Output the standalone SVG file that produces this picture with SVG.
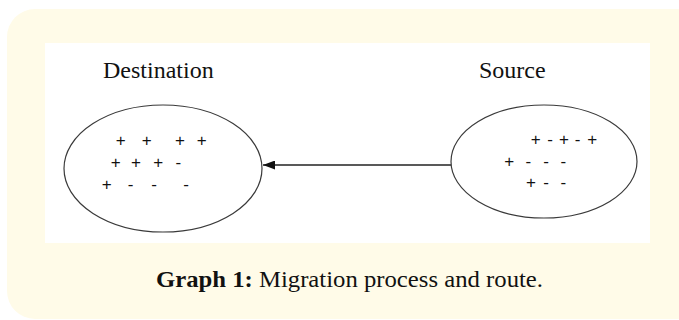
<svg xmlns="http://www.w3.org/2000/svg" width="679" height="320" viewBox="0 0 679 320">
  <style>
    .panel { fill: #fffbe8; }
    .plot { fill: #ffffff; }
    .node { fill: #ffffff; stroke: #3a3a3a; stroke-width: 1.2; }
    .label { font-family: "Liberation Serif", "Times New Roman", serif; font-size: 24px; fill: #111; }
    .sign { font-family: "Liberation Sans", Arial, sans-serif; font-size: 17px; fill: #111; text-anchor: middle; }
    .edge { stroke: #222; stroke-width: 1.4; fill: none; }
    .caption { font-family: "Liberation Serif", "Times New Roman", serif; font-size: 23px; fill: #111; }
  </style>
  <defs>
    <marker id="arrow" viewBox="0 0 12 9" refX="12" refY="4.5" markerWidth="12" markerHeight="9" markerUnits="userSpaceOnUse" orient="auto">
      <path d="M0,0 L12,4.5 L0,9 Z" fill="#111"/>
    </marker>
  </defs>

  <rect class="panel" x="7" y="9" width="700" height="310" rx="28" ry="28"/>
  <rect class="plot" x="45" y="43" width="605" height="200"/>

  <g id="connectors">
    <line class="edge" x1="451" y1="165" x2="263" y2="165" marker-end="url(#arrow)"/>
  </g>

  <g id="node-destination">
    <ellipse class="node" cx="163" cy="168.5" rx="99" ry="63.5"/>
    <text class="label" x="103" y="78" font-family="Liberation Serif, serif">Destination</text>
    <text class="sign" x="120.7 133.7 146.7 163.3 180 190.8 201.7" y="146.1">+ + + +</text>
    <text class="sign" x="115.7 125.8 136 147.2 158.3 168.3 178.3" y="167.8">+ + + -</text>
    <text class="sign" x="106.7 118.7 130.7 142.3 154 170 186" y="190.1">+ - - -</text>
  </g>

  <g id="node-source">
    <ellipse class="node" cx="544" cy="161.5" rx="93" ry="56.5"/>
    <text class="label" x="479" y="78" font-family="Liberation Serif, serif">Source</text>
    <text class="sign" x="535.7 542.8 550 557 564 570.8 577.7 585 592.3" y="144.6">+ - + - +</text>
    <text class="sign" x="509.3 518.8 528.3 537.2 546 554.7 563.3" y="166.8">+ - - -</text>
    <text class="sign" x="531 538.5 546 554.7 563.3" y="187.8">+ - -</text>
  </g>

  <text class="caption" x="156" y="286.5" textLength="387" lengthAdjust="spacingAndGlyphs"><tspan font-weight="bold">Graph 1:</tspan> Migration process and route.</text>
</svg>
